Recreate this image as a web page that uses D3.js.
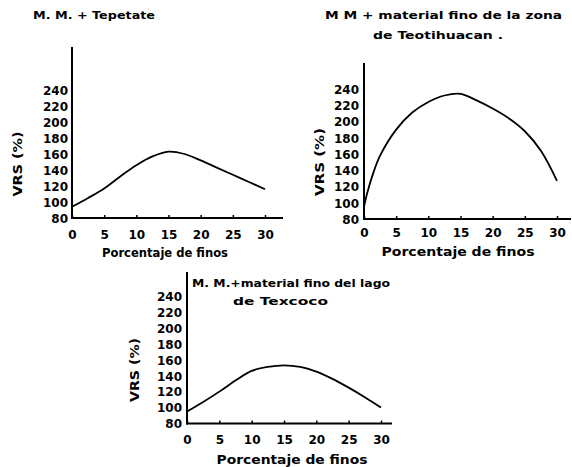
<!DOCTYPE html>
<html><head><meta charset="utf-8">
<script src="https://cdn.jsdelivr.net/npm/d3@7"></script>
<style>
html,body{margin:0;padding:0;background:#fff;}
svg{display:block;background:#fff;}
text{font-family:"DejaVu Sans",sans-serif;font-weight:bold;fill:#000;}
</style>
</head><body>
<svg id="c" width="572" height="467"></svg>
<script>
// ---------- data ----------
const xTicks = [0, 5, 10, 15, 20, 25, 30];
const xTickLabels = ["0", "5", "10", "15", "20", "25", "30"];
const yTicks = [80, 100, 120, 140, 160, 180, 200, 220, 240];
const yTickLabels = ["80", "100", "120", "140", "160", "180", "200", "220", "240"];
const yLabel = "VRS (%)";
const xLabel = "Porcentaje de finos";

const titleTepetate = ["M. M. + Tepetate"];
const titleTeotihuacan = ["M  M + material fino de la zona", "de  Teotihuacan ."];
const titleTexcoco = ["M. M.+material fino del lago", "de  Texcoco"];

const finosTepetate = [0, 2.5, 5, 7.5, 10, 12.5, 15, 17.5, 20, 22.5, 25, 27.5, 30];
const vrsTepetate   = [94, 105, 117, 132, 146, 157, 163, 160, 152, 143, 134, 125, 116];

const finosTeotihuacan = [0, 0.5, 1.5, 2.5, 5, 7.5, 10, 12.5, 15, 17.5, 20, 22.5, 25, 27.5, 30];
const vrsTeotihuacan   = [95, 112, 138, 158, 190, 211, 224, 232, 234, 226, 216, 204, 188, 164, 127];

const finosTexcoco = [0, 2.5, 5, 7.5, 10, 12.5, 15, 17.5, 20, 22.5, 25, 27.5, 30];
const vrsTexcoco   = [95, 107, 120, 134, 146, 151, 153, 151, 145, 136, 125, 113, 100];

// ---------- drawing ----------
const svg = d3.select("#c");

function panel(cfg) {
  const x = d3.scaleLinear().domain([0, 30]).range([cfg.x0, cfg.x1]);
  const y = d3.scaleLinear().domain([80, 240]).range([cfg.y0, cfg.y1]);
  const g = svg.append("g");

  // axis lines
  g.append("line").attr("x1", x(0)).attr("x2", x(0))
    .attr("y1", cfg.yTop).attr("y2", y(80) + 1)
    .attr("stroke", "#000").attr("stroke-width", 2);
  g.append("line").attr("x1", x(0) - 1).attr("x2", cfg.xEnd)
    .attr("y1", y(80)).attr("y2", y(80))
    .attr("stroke", "#000").attr("stroke-width", 2);

  // x axis ticks + labels
  const xa = g.append("g").attr("transform", `translate(0,${y(80)})`)
    .call(d3.axisBottom(x).tickValues(xTicks)
      .tickFormat((d, i) => xTickLabels[i])
      .tickSizeInner(-3).tickSizeOuter(0));
  xa.select(".domain").remove();
  xa.selectAll(".tick line").attr("stroke-width", 1.5);
  xa.selectAll(".tick text")
    .attr("y", cfg.xLabY - y(80)).attr("dy", "0.36em")
    .style("font-size", "12px");

  // y axis labels
  const ya = g.append("g").attr("transform", `translate(${x(0)},0)`)
    .call(d3.axisLeft(y).tickValues(yTicks)
      .tickFormat((d, i) => yTickLabels[i])
      .tickSize(0).tickPadding(cfg.yPad));
  ya.select(".domain").remove();
  ya.selectAll(".tick text").attr("dy", "0.36em").style("font-size", "12px");

  // curve
  const pts = cfg.xs.map((v, i) => [v, cfg.ys[i]]);
  g.append("path").datum(pts)
    .attr("fill", "none").attr("stroke", "#000").attr("stroke-width", 1.8)
    .attr("stroke-linejoin", "round")
    .attr("d", d3.line().x(d => x(d[0])).y(d => y(d[1]))
      .curve(d3.curveCatmullRom.alpha(0.5)));

  // titles
  cfg.title.forEach((t, i) => {
    const tl = cfg.titlePos[i];
    g.append("text").attr("x", tl[0]).attr("y", tl[1]).attr("dy", "0.36em")
      .attr("textLength", tl[2]).attr("lengthAdjust", "spacingAndGlyphs")
      .style("font-size", cfg.titleSize + "px").text(t);
  });

  // x label
  g.append("text").attr("x", cfg.xTitle[0] - cfg.xTitle[2] / 2).attr("y", cfg.xTitle[1])
    .attr("dy", "0.36em")
    .attr("textLength", cfg.xTitle[2]).attr("lengthAdjust", "spacingAndGlyphs")
    .style("font-size", "12px").text(xLabel);

  // y label
  g.append("text")
    .attr("transform", `translate(${cfg.yTitle[0]},${cfg.yTitle[1]}) rotate(-90)`)
    .attr("x", -cfg.yTitle[2] / 2).attr("dy", "0.36em")
    .attr("textLength", cfg.yTitle[2]).attr("lengthAdjust", "spacingAndGlyphs")
    .style("font-size", "12px").text(yLabel);
}

panel({
  xs: finosTepetate, ys: vrsTepetate, title: titleTepetate,
  x0: 72, x1: 265, y0: 218, y1: 90, yTop: 47, xEnd: 283,
  xLabY: 235, yPad: 4,
  titleSize: 10, titlePos: [[33, 15, 122]],
  xTitle: [165, 253, 126], yTitle: [18, 164, 65]
});

panel({
  xs: finosTeotihuacan, ys: vrsTeotihuacan, title: titleTeotihuacan,
  x0: 364, x1: 557, y0: 219, y1: 89, yTop: 63, xEnd: 571,
  xLabY: 233, yPad: 5,
  titleSize: 10, titlePos: [[325, 15, 237], [373, 35, 130]],
  xTitle: [458, 252, 153], yTitle: [320, 162, 68]
});

panel({
  xs: finosTexcoco, ys: vrsTexcoco, title: titleTexcoco,
  x0: 187, x1: 381, y0: 423.5, y1: 296, yTop: 272, xEnd: 392,
  xLabY: 440, yPad: 5,
  titleSize: 11, titlePos: [[192, 283, 198], [233, 301, 95]],
  xTitle: [292, 460, 151], yTitle: [135, 370, 64]
});
</script>
</body></html>
